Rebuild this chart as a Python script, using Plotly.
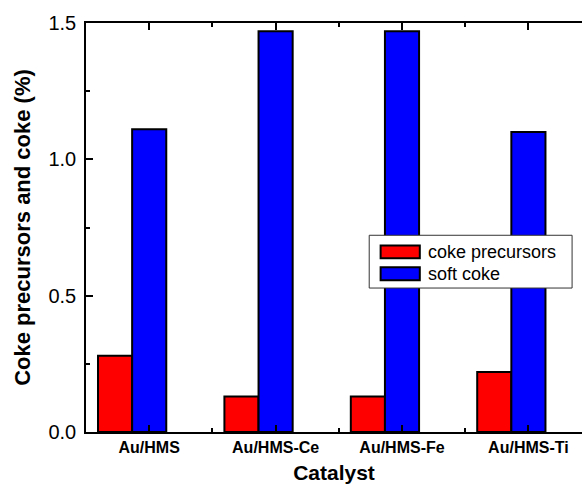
import plotly.graph_objects as go

# Catalysts and measured coke amounts (%)
catalysts = ["Au/HMS", "Au/HMS-Ce", "Au/HMS-Fe", "Au/HMS-Ti"]
coke_precursors = [0.28, 0.13, 0.13, 0.22]
soft_coke = [1.11, 1.47, 1.47, 1.10]
series_names = ["coke precursors", "soft coke"]
series_colors = ["#FF0000", "#0000FF"]

bar_w = 0.27
idx = list(range(len(catalysts)))

fig = go.Figure()
fig.add_trace(go.Bar(
    x=[i - bar_w for i in idx], y=coke_precursors, width=bar_w,
    name=series_names[0], marker=dict(color=series_colors[0], line=dict(color="black", width=2)),
    showlegend=False,
))
fig.add_trace(go.Bar(
    x=idx, y=soft_coke, width=bar_w,
    name=series_names[1], marker=dict(color=series_colors[1], line=dict(color="black", width=2)),
    showlegend=False,
))

font_family = "Liberation Sans, Arial, sans-serif"

fig.update_layout(
    width=582, height=484,
    margin=dict(l=86, r=0, t=23, b=52),
    paper_bgcolor="white", plot_bgcolor="white",
    barmode="overlay",
    font=dict(family=font_family, color="black"),
)

fig.update_xaxes(
    range=[-0.5, 3.424],
    tickmode="array", tickvals=idx, ticktext=catalysts,
    tickfont=dict(size=16, weight="bold"),
    ticks="inside", ticklen=7, tickwidth=1.5, tickcolor="black",
    minor=dict(tickmode="array", tickvals=[0.5, 1.5, 2.5], ticks="inside", ticklen=4, tickwidth=1.5, tickcolor="black"),
    showline=True, linecolor="black", linewidth=1.5, mirror="ticks",
    showgrid=False, zeroline=False,
    title=dict(text="Catalyst", font=dict(size=21, weight="bold"), standoff=13),
)
fig.update_yaxes(
    range=[0, 1.5],
    tickmode="array", tickvals=[0, 0.5, 1.0, 1.5], ticktext=["0.0", "0.5", "1.0", "1.5"],
    tickfont=dict(size=20), ticklabelstandoff=4,
    ticks="inside", ticklen=7, tickwidth=1.5, tickcolor="black",
    minor=dict(tickmode="array", tickvals=[0.25, 0.75, 1.25], ticks="inside", ticklen=4, tickwidth=1.5, tickcolor="black"),
    showline=True, linecolor="black", linewidth=1.5,
    showgrid=False, zeroline=False,
    title=dict(text="Coke precursors and coke (%)", font=dict(size=22, weight="bold"), standoff=12),
)

# Legend box with wide swatches, placed in paper coordinates
box = dict(x0=0.571, x1=0.980, y0=0.352, y1=0.481)
swatch_x = (0.594, 0.673)
rows_y = [(0.425, 0.456), (0.371, 0.403)]
fig.add_shape(type="rect", xref="paper", yref="paper", **box,
              fillcolor="white", line=dict(color="#333333", width=1))
for name, color, (y0, y1) in zip(series_names, series_colors, rows_y):
    fig.add_shape(type="rect", xref="paper", yref="paper",
                  x0=swatch_x[0], x1=swatch_x[1], y0=y0, y1=y1,
                  fillcolor=color, line=dict(color="black", width=2))
    fig.add_annotation(xref="paper", yref="paper", x=0.685, y=(y0 + y1) / 2,
                       text=name, showarrow=False, xanchor="left", yanchor="middle",
                       font=dict(size=18, family=font_family, color="black"))

fig.write_html("out.html")
